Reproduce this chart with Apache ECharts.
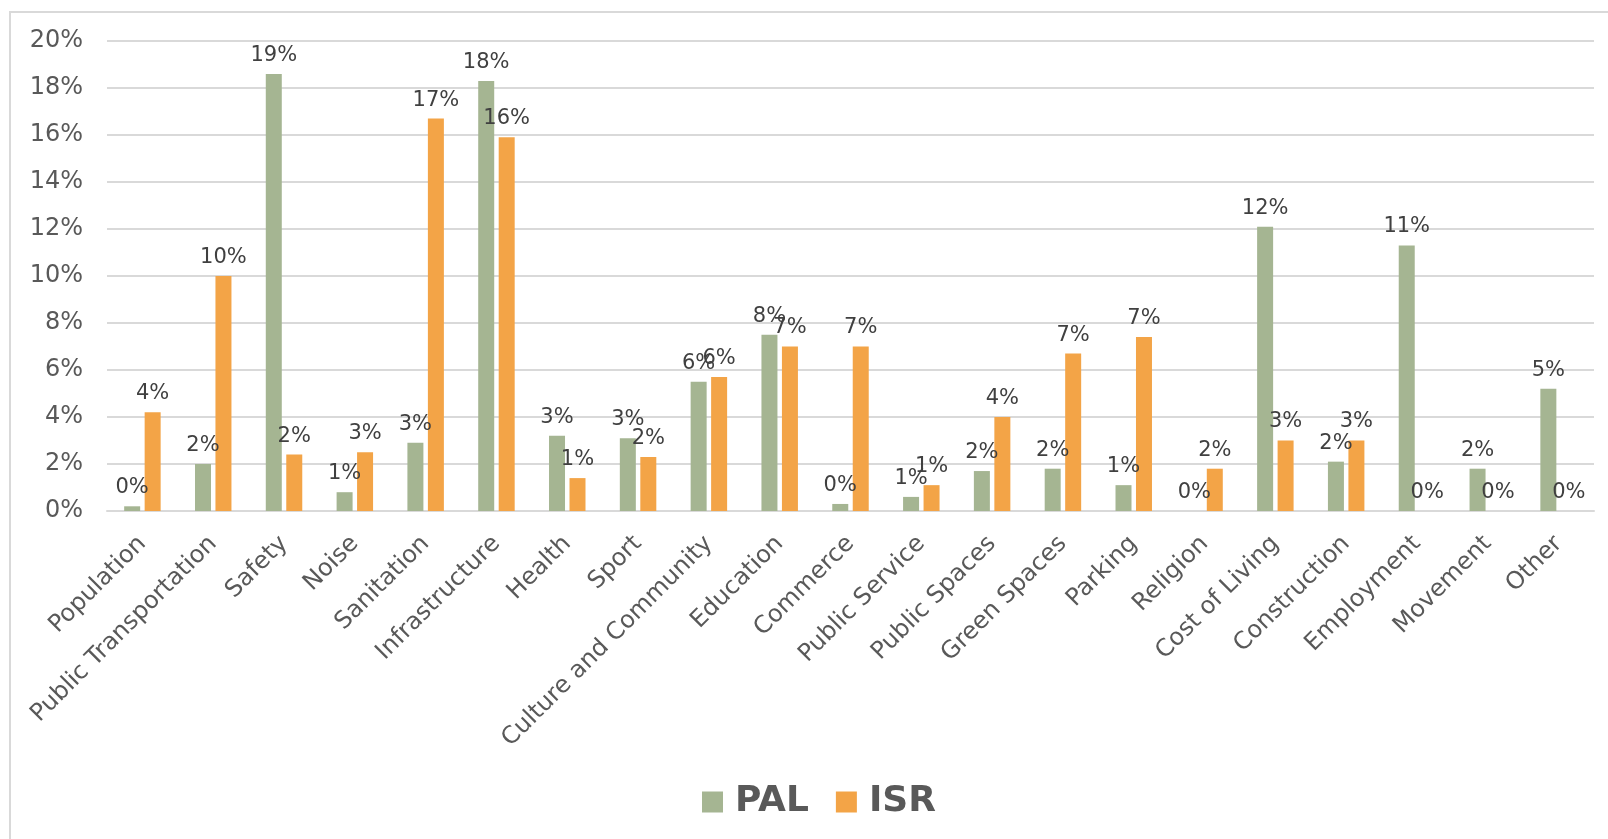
<!DOCTYPE html>
<html>
<head>
<meta charset="utf-8">
<title>PAL vs ISR</title>
<script src="https://cdn.jsdelivr.net/npm/echarts@6/dist/echarts.min.js"></script>
<style>
  html, body { margin: 0; padding: 0; background: #fff; }
  #chart { width: 1608px; height: 839px; }
</style>
</head>
<body>
<div id="chart"></div>
<script>
// categories on the x axis
const categories = [
  'Population', 'Public Transportation', 'Safety', 'Noise', 'Sanitation',
  'Infrastructure', 'Health', 'Sport', 'Culture and Community', 'Education',
  'Commerce', 'Public Service', 'Public Spaces', 'Green Spaces', 'Parking',
  'Religion', 'Cost of Living', 'Construction', 'Employment', 'Movement', 'Other'
];

// share of mentions, in percent
const palValues = [0.2, 2.0, 18.6, 0.8, 2.9, 18.3, 3.2, 3.1, 5.5, 7.5, 0.3, 0.6, 1.7, 1.8, 1.1, 0, 12.1, 2.1, 11.3, 1.8, 5.2];
const isrValues = [4.2, 10.0, 2.4, 2.5, 16.7, 15.9, 1.4, 2.3, 5.7, 7.0, 7.0, 1.1, 4.0, 6.7, 7.4, 1.8, 3.0, 3.0, 0, 0, 0];

const FONT = '"DejaVu Sans", Verdana, sans-serif';

const labelStyle = {
  show: true,
  position: 'top',
  distance: 8,
  color: '#404040',
  fontSize: 21,
  fontFamily: FONT,
  formatter: p => Math.round(p.value) + '%'
};

const chart = echarts.init(document.getElementById('chart'));

chart.setOption({
  animation: false,
  textStyle: { fontFamily: FONT },
  graphic: [{
    type: 'rect',
    shape: { x: 10, y: 12, width: 1640, height: 880 },
    style: { fill: 'none', stroke: '#d9d9d9', lineWidth: 2 },
    silent: true,
    z: -10
  }],
  grid: { left: 107, right: 14, top: 41, bottom: 328 },
  legend: {
    left: 702,
    top: 784,
    padding: 0,
    icon: 'rect',
    itemWidth: 21,
    itemHeight: 21,
    itemGap: 27,
    textStyle: {
      fontSize: 36,
      fontWeight: 'bold',
      color: '#595959',
      fontFamily: FONT,
      padding: [0, 0, 0, 7]
    },
    data: ['PAL', 'ISR']
  },
  xAxis: {
    type: 'category',
    data: categories,
    axisTick: { show: false },
    axisLine: { lineStyle: { color: '#d9d9d9', width: 2 } },
    axisLabel: {
      interval: 0,
      rotate: 45,
      margin: 29,
      color: '#595959',
      fontSize: 24,
      fontFamily: FONT
    }
  },
  yAxis: {
    type: 'value',
    min: 0,
    max: 20,
    interval: 2,
    axisLine: { show: false },
    axisTick: { show: false },
    splitLine: { lineStyle: { color: '#d9d9d9', width: 2 } },
    axisLabel: {
      formatter: '{value}%',
      margin: 24,
      color: '#595959',
      fontSize: 24,
      fontFamily: FONT
    }
  },
  series: [
    {
      name: 'PAL',
      type: 'bar',
      data: palValues,
      barWidth: 16,
      barGap: '28%',
      itemStyle: { color: '#a5b592' },
      label: labelStyle
    },
    {
      name: 'ISR',
      type: 'bar',
      data: isrValues,
      barWidth: 16,
      itemStyle: { color: '#f3a447' },
      label: labelStyle
    }
  ]
});
</script>
</body>
</html>
